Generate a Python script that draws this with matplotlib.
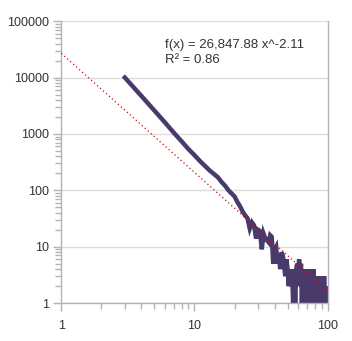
import matplotlib
matplotlib.use('Agg')

import matplotlib.pyplot as plt
import numpy as np

plt.rcParams['font.family'] = ['Liberation Sans', 'DejaVu Sans']

# frequency by rank / degree
x_values = list(range(3, 101))
counts = [10000, 4700, 2600, 1600, 1050, 740, 540, 420, 330, 270,
          225, 195, 170, 140, 120, 100, 88, 78, 62, 52,
          42, 36, 32, 21, 27, 24, 14, 20, 19, 9,
          17, 14, 13, 12, 16, 15, 5, 9, 10, 5,
          7, 4, 8, 7, 5, 3, 6, 4, 2, 4,
          2, 4, 1, 4, 1, 4, 5, 3, 6, 2,
          5, 1, 4, 1, 4, 2, 4, 1, 4, 1,
          4, 2, 1, 4, 1, 4, 1, 2, 1, 3,
          1, 2, 1, 3, 1, 2, 1, 3, 1, 3,
          1, 3, 1, 2, 1, 2, 1, 1]

# power trend line f(x) = a * x^b
coef_a = 26847.88
coef_b = -2.11
r_squared = 0.86

line_color = '#4a3a6c'
axis_color = '#b3b3b3'
grid_color = '#dddddd'
text_color = '#333333'

fig = plt.figure(figsize=(3.52, 3.41), dpi=100)
ax = fig.add_axes([0.174, 0.111, 0.757, 0.827])

trend_x = np.logspace(0, 2, 200)
ax.plot(trend_x, coef_a * trend_x ** coef_b, color='#dd0000', lw=0.9,
        linestyle=(0, (1, 2.2)), zorder=3)
ax.plot(x_values, counts, color=line_color, lw=3.2, solid_joinstyle='miter',
        zorder=2)

ax.set_xscale('log')
ax.set_yscale('log')
ax.set_xlim(1, 100)
ax.set_ylim(1, 100000)

ax.set_yticks([1, 10, 100, 1000, 10000, 100000])
ax.set_yticklabels(['1', '10', '100', '1000', '10000', '100000'])
ax.set_xticks([1, 10, 100])
ax.set_xticklabels(['1', '10', '100'])

ax.grid(True, axis='y', which='major', color=grid_color, lw=1)
ax.set_axisbelow(True)

ax.spines['top'].set_visible(False)
for side in ['left', 'bottom', 'right']:
    ax.spines[side].set_color(axis_color)
    ax.spines[side].set_linewidth(1)

ax.tick_params(which='major', length=6, width=1, color=axis_color,
               labelsize=9, labelcolor=text_color, pad=3)
ax.tick_params(which='minor', length=4, width=1, color=axis_color)
ax.tick_params(axis='x', which='major', pad=6)
ax.yaxis.set_minor_formatter(matplotlib.ticker.NullFormatter())
ax.xaxis.set_minor_formatter(matplotlib.ticker.NullFormatter())

eq_text = f'f(x) = {coef_a:,.2f} x^{coef_b}\nR² = {r_squared}'
fig.text(0.468, 0.886, eq_text, ha='left', va='top', fontsize=9.5,
         color=text_color, linespacing=1.3)

fig.savefig('out.png', dpi=100)
